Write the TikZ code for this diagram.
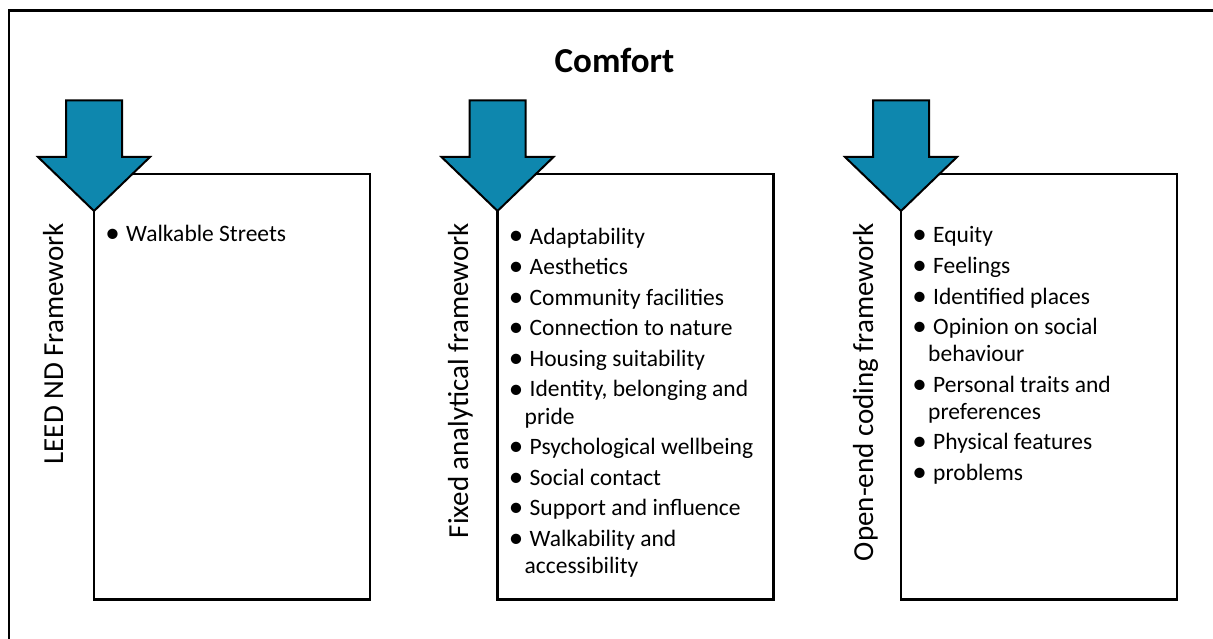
\documentclass[tikz,border=0pt]{standalone}
\usepackage{fontspec}
\setmainfont{Carlito}
\usetikzlibrary{calc}

\definecolor{arrowblue}{RGB}{14,135,174}
\newcommand{\bul}{\makebox[14pt]{\raisebox{-1pt}{\fontsize{29}{27}\selectfont\textbullet}}\hspace{6.5pt}}
\newcommand{\cont}{\hspace*{15.5pt}}

\begin{document}
\begin{tikzpicture}[x=1pt, y=-1pt,
    panel/.style={draw, line width=2.5pt, minimum width=276pt, minimum height=425.5pt,
                  anchor=north west, inner sep=0pt, outer sep=0pt},
    fatarrow/.style={draw, line width=2pt, fill=arrowblue, line join=miter},
    framelabel/.style={rotate=90, anchor=base east, inner sep=0pt,
                       font=\fontsize{29}{34}\selectfont},
    itemlist/.style={anchor=base west, inner sep=0pt,
                     font=\fontsize{23.5}{27}\selectfont}
]
\useasboundingbox (0,0) rectangle (1213,639);
\clip (0,0) rectangle (1213,639);

% ================================================================
%  Outer frame (runs off the page right and bottom)
% ================================================================
\draw[line width=2.5pt] (9,660) -- (9,10.5) -- (1230,10.5);

\node[anchor=base, inner sep=0pt, font=\fontsize{35}{40}\selectfont\bfseries]
    (title) at (614.5,73) {Comfort};

% boxes with their arrows
\foreach \i/\xl in {1/94, 2/497.5, 3/901} {
    \node[panel] (box\i) at (\xl,174) {};
    \coordinate (tip\i) at ($(box\i.north west)+(0,37)$);
    \draw[fatarrow] ($(tip\i)+(-28,-110.5)$) -- ++(56,0) -- ++(0,56.5) -- ++(28,0)
        -- (tip\i) -- ++(-56,-54) -- ++(28,0) -- cycle;
}

% side labels
\node[framelabel] (lab1) at ($(box1.north west)+(-31,49)$) {LEED ND Framework};
\node[framelabel] (lab2) at ($(box2.north west)+(-29.5,49)$) {Fixed analytical framework};
\node[framelabel] (lab3) at ($(box3.north west)+(-28,49)$) {Open-end coding framework};

% bullet lists
\node[itemlist] (list1) at ($(box1.north west)+(11.5,68)$) {%
    \begin{tabular}[t]{@{}l@{}}
    \bul Walkable Streets
    \end{tabular}};

\node[itemlist] (list2) at ($(box2.north west)+(11.5,70)$) {%
    \begin{tabular}[t]{@{}l@{}}
    \bul Adaptability\\[3.6pt]
    \bul Aesthetics\\[3.6pt]
    \bul Community facilities\\[3.6pt]
    \bul Connection to nature\\[3.6pt]
    \bul Housing suitability\\[3.6pt]
    \bul Identity, belonging and\\
    \cont pride\\[3.6pt]
    \bul Psychological wellbeing\\[3.6pt]
    \bul Social contact\\[3.6pt]
    \bul Support and influence\\[3.6pt]
    \bul Walkability and\\
    \cont accessibility
    \end{tabular}};

\node[itemlist] (list3) at ($(box3.north west)+(11.5,69)$) {%
    \begin{tabular}[t]{@{}l@{}}
    \bul Equity\\[3.6pt]
    \bul Feelings\\[3.6pt]
    \bul Identified places\\[3.6pt]
    \bul Opinion on social\\
    \cont behaviour\\[3.6pt]
    \bul Personal traits and\\
    \cont preferences\\[3.6pt]
    \bul Physical features\\[3.6pt]
    \bul problems
    \end{tabular}};
\end{tikzpicture}
\end{document}
